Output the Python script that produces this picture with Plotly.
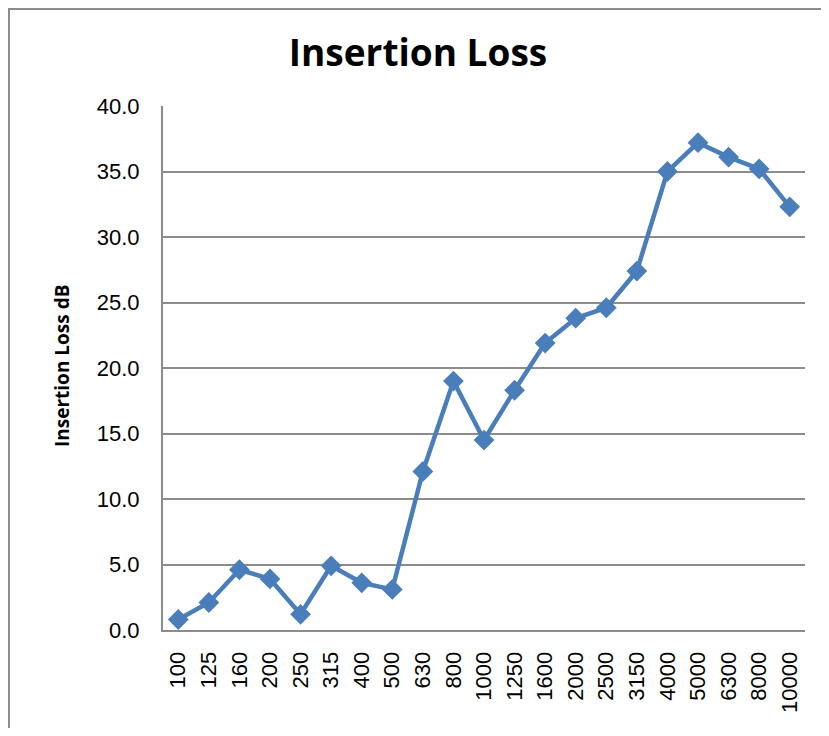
import plotly.graph_objects as go

freqs = ["100", "125", "160", "200", "250", "315", "400", "500", "630", "800", "1000",
         "1250", "1600", "2000", "2500", "3150", "4000", "5000", "6300", "8000", "10000"]
insertion_loss = [0.8, 2.1, 4.6, 3.9, 1.2, 4.9, 3.6, 3.1, 12.1, 19.0, 14.5,
                  18.3, 21.9, 23.8, 24.6, 27.4, 35.0, 37.2, 36.1, 35.2, 32.3]
y_ticks = [0, 5, 10, 15, 20, 25, 30, 35, 40]

# page has an 8px body margin on every side; keep the figure inside the viewport
OFF = 8
SW, SH = 829, 736            # screenshot size
PX0, PY0, PX1, PY1 = 163, 106, 805, 630   # plot box in screenshot pixels
W, H = SW - 2 * OFF, SH - 2 * OFF
L, T = PX0 - OFF, PY0 - OFF
pw, ph = PX1 - PX0, PY1 - PY0
R, B = W - L - pw, H - T - ph

def px_x(x):
    return (x - PX0) / pw

def px_y(y):
    return (PY1 - y) / ph

fig = go.Figure()
fig.add_trace(go.Scatter(
    x=freqs, y=insertion_loss, mode="lines+markers",
    line=dict(color="#4a7ebb", width=4.5),
    marker=dict(symbol="diamond", size=16, color="#4a7ebb"),
    showlegend=False,
))

# outer chart-area frame: left and top edges only, kept inside the figure
bx0, by0, bx1, by1 = px_x(OFF + 1), px_y(OFF + H), px_x(OFF + W), px_y(OFF + 1)
frame_path = f"M {bx0},{by0} L {bx0},{by1} L {bx1},{by1}"

fig.update_layout(
    width=W, height=H,
    margin=dict(l=L, r=R, t=T, b=B),
    paper_bgcolor="white", plot_bgcolor="white",
    title=dict(text="<b>Insertion Loss</b>", x=(418 - OFF) / W, xref="container", xanchor="center",
               y=1 - (53 - OFF) / H, yref="container", yanchor="middle",
               font=dict(family="Open Sans", size=37, color="black")),
    xaxis=dict(type="category", range=[-0.5, len(freqs) - 0.5], tickangle=-90, showgrid=False,
               showline=True, linecolor="#8c8c8c", linewidth=2,
               tickfont=dict(family="Liberation Sans", size=22, color="black"),
               ticks="outside", ticklen=11, tickcolor="white",
               automargin=False),
    yaxis=dict(range=[0, 40], tickvals=y_ticks, tickformat=".1f",
               showgrid=True, gridcolor="#8c8c8c", gridwidth=1.5,
               showline=True, linecolor="#8c8c8c", linewidth=2,
               zeroline=False,
               tickfont=dict(family="Liberation Sans", size=22, color="black"),
               ticks="outside", ticklen=17, tickcolor="white",
               automargin=False),
    annotations=[dict(text="<b>Insertion Loss dB</b>", textangle=-90,
                      x=px_x(62), y=px_y(366), xref="paper", yref="paper",
                      showarrow=False, xanchor="center", yanchor="middle",
                      font=dict(family="Open Sans", size=19, color="black"))],
    shapes=[dict(type="path", xref="paper", yref="paper", path=frame_path,
                 line=dict(color="#8c8c8c", width=2), layer="below")],
)

fig.write_html("out.html")
